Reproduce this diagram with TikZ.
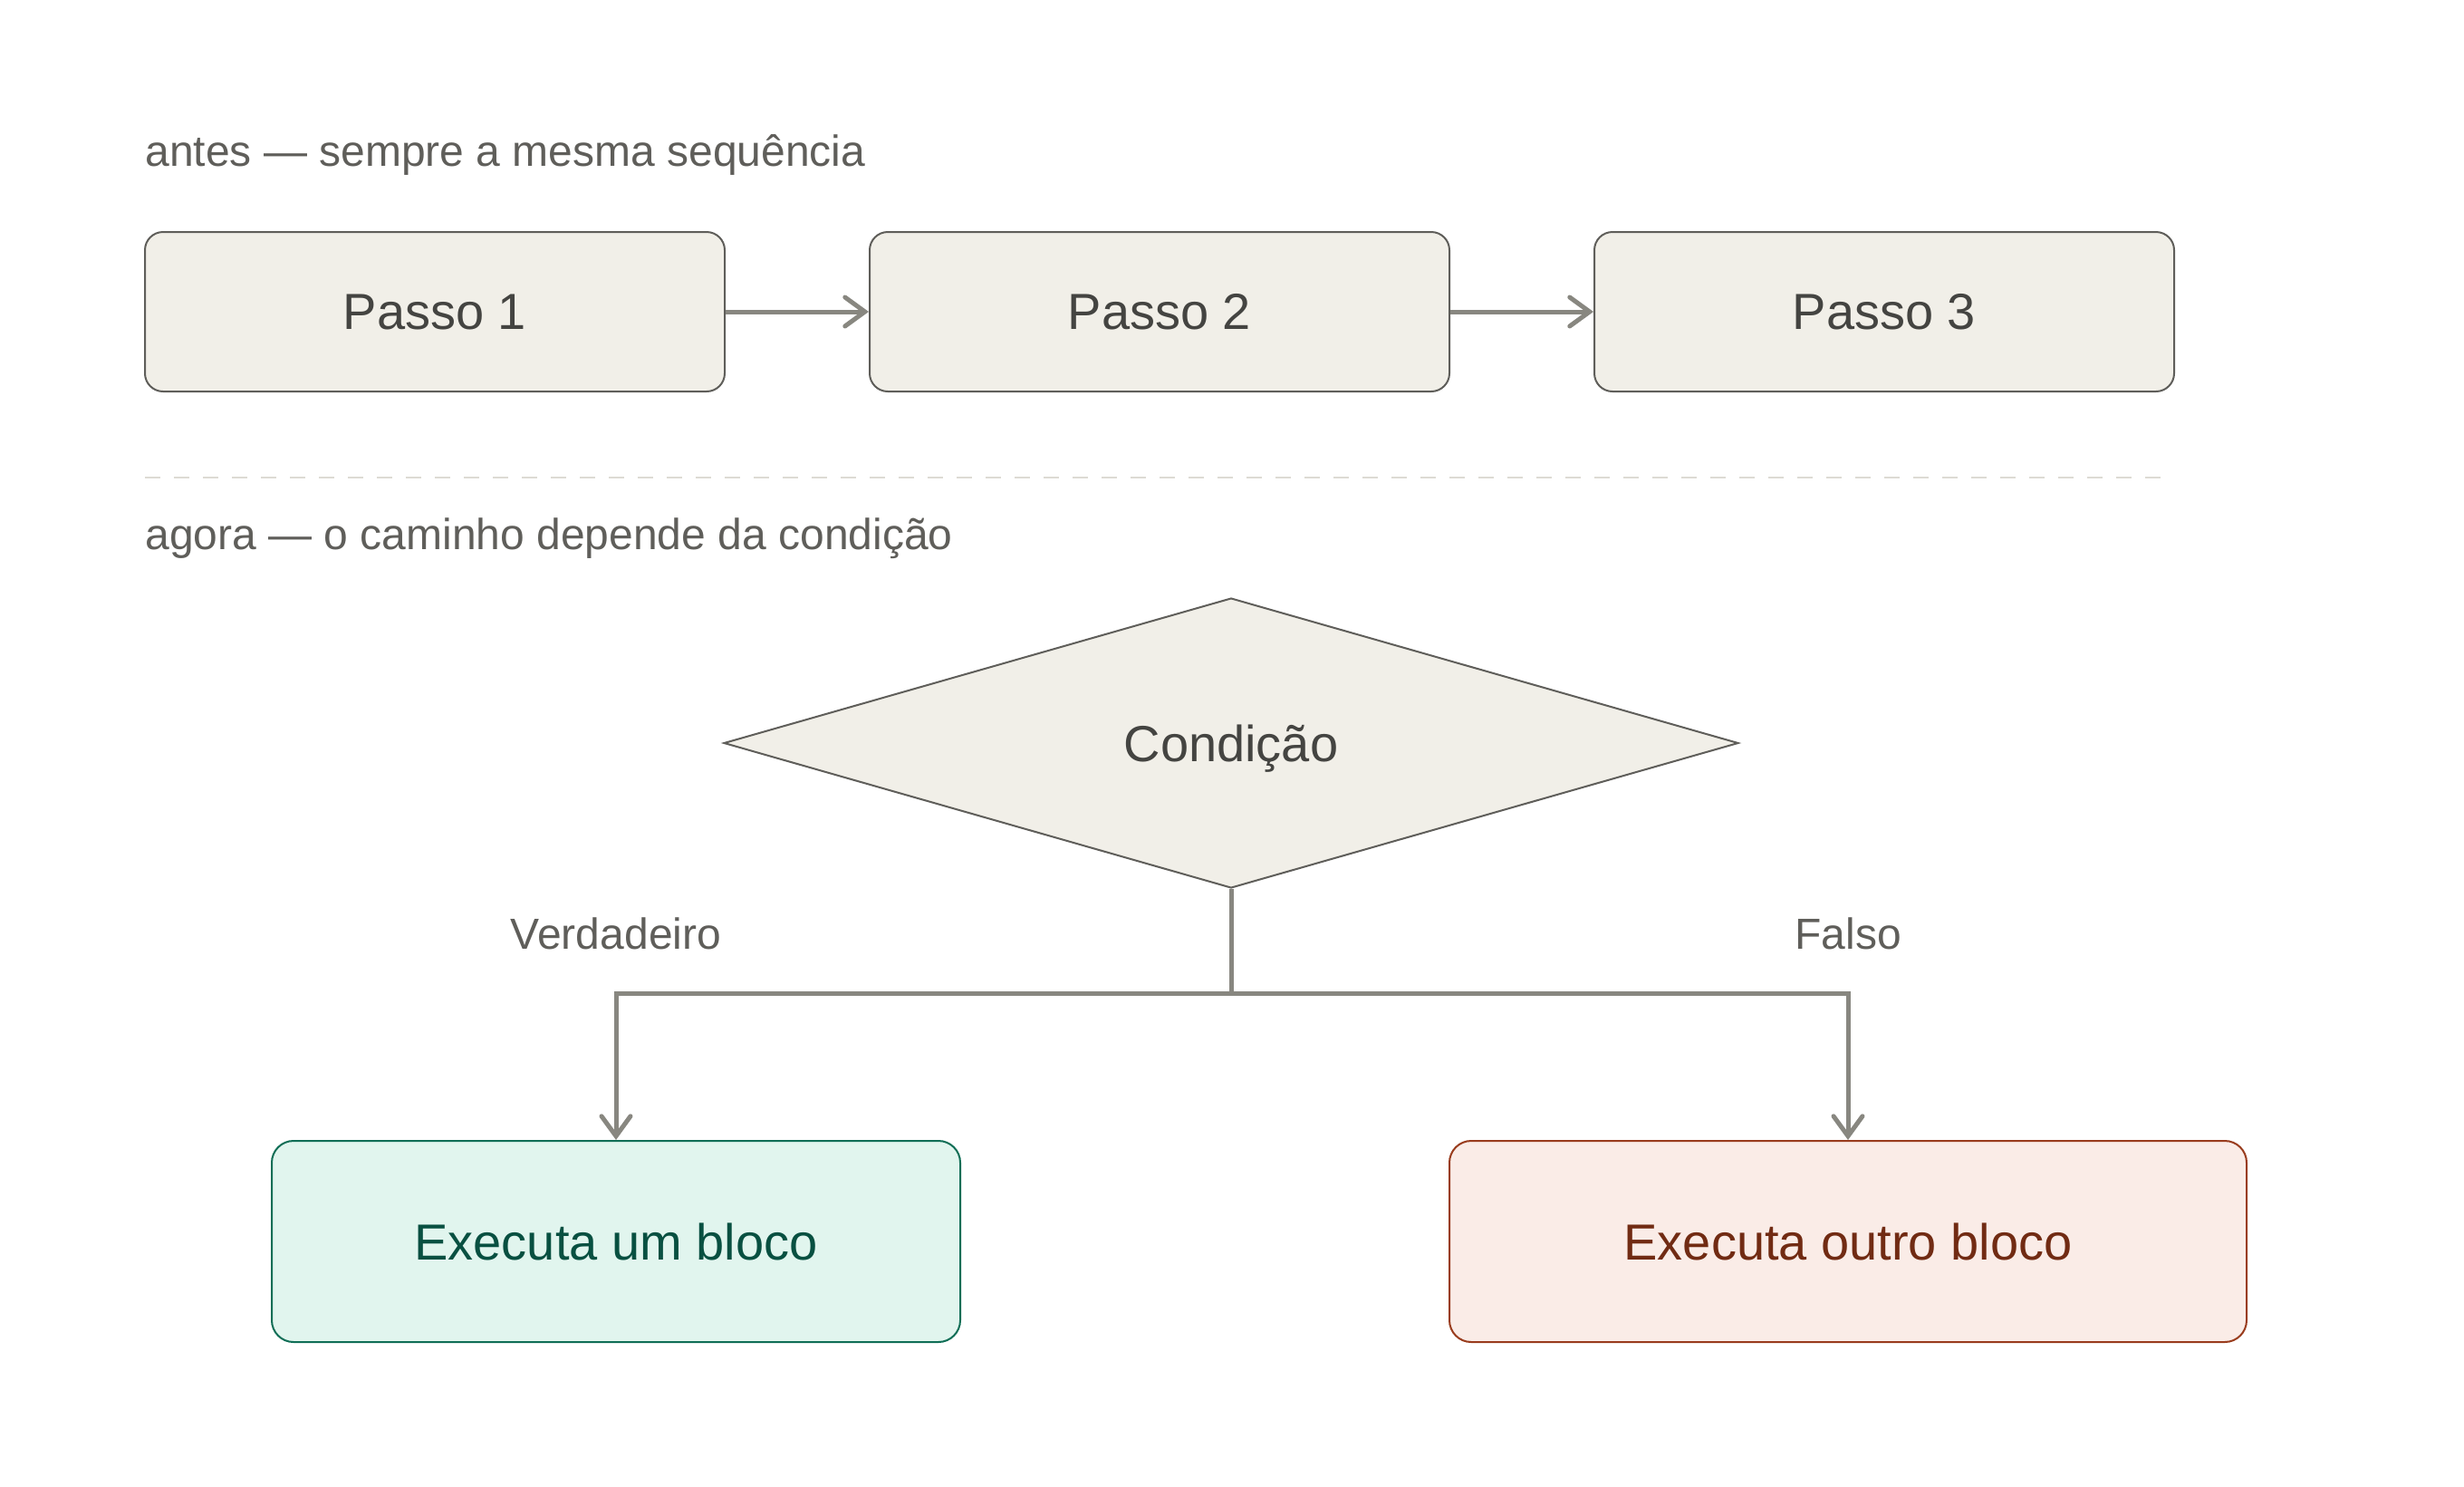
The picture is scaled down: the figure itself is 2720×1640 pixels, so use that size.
\documentclass[tikz,border=0pt]{standalone}
\usepackage{fontspec}
\setmainfont{Liberation Sans}
\usetikzlibrary{shapes.geometric,arrows.meta}
\definecolor{boxfill}{HTML}{F1EFE8}
\definecolor{boxline}{HTML}{5F5E5A}
\definecolor{boxtext}{HTML}{444441}
\definecolor{arrowc}{HTML}{888780}
\definecolor{grfill}{HTML}{E1F5EE}
\definecolor{grline}{HTML}{0F6E56}
\definecolor{grtext}{HTML}{085041}
\definecolor{rdfill}{HTML}{FAECE7}
\definecolor{rdline}{HTML}{993C1D}
\definecolor{rdtext}{HTML}{712B13}
\definecolor{sepc}{HTML}{DDDBD4}
\tikzset{
  stepbox/.style={draw=boxline, fill=boxfill, line width=1pt, rounded corners=10pt,
    minimum width=320pt, minimum height=88pt, inner sep=0pt, text=boxtext,
    font=\fontsize{28}{32}\selectfont, text depth=0pt},
  condbox/.style={diamond, draw=boxline, fill=boxfill, line width=1pt,
    minimum width=560pt, minimum height=160pt, inner sep=0pt, aspect=3.5, text=boxtext,
    font=\fontsize{28}{32}\selectfont, text depth=0pt},
  yesbox/.style={draw=grline, fill=grfill, line width=1pt, rounded corners=12pt,
    minimum width=380pt, minimum height=111pt, inner sep=0pt, text=grtext,
    font=\fontsize{28}{32}\selectfont, text depth=0pt},
  nobox/.style={draw=rdline, fill=rdfill, line width=1pt, rounded corners=12pt,
    minimum width=440pt, minimum height=111pt, inner sep=0pt, text=rdtext,
    font=\fontsize{28}{32}\selectfont, text depth=0pt},
  heading/.style={anchor=base west, inner sep=0pt, text=boxline, font=\fontsize{24}{28}\selectfont},
  branchlabel/.style={inner sep=0pt, text=boxline, font=\fontsize{24}{28}\selectfont, text depth=0pt},
  arr/.style={draw=arrowc, line width=2.5pt, -{Straight Barb[length=11pt,width=16pt,line cap=round]}},
  conn/.style={draw=arrowc, line width=2.5pt}
}
\begin{document}
\begin{tikzpicture}[x=0.5pt,y=-0.5pt]
\useasboundingbox (0,0) rectangle (2720,1640);
\node[heading] (t1) at (160,183) {antes — sempre a mesma sequência};
\node[stepbox] (p1) at (480,344) {Passo 1};
\node[stepbox] (p2) at (1280,344) {Passo 2};
\node[stepbox] (p3) at (2080,344) {Passo 3};
\draw[arr] (p1.east) -- (p2.west);
\draw[arr] (p2.east) -- (p3.west);
\coordinate (s1) at (160,527);
\coordinate (s2) at (2400,527);
\draw[sepc, line width=1.2pt, dash pattern=on 8.5pt off 7.5pt] (s1) -- (s2);
\node[heading] (t2) at (160,606) {agora — o caminho depende da condição};
\node[condbox] (c) at (1359,820) {Condição};
\node[yesbox] (y) at (680,1370) {Executa um bloco};
\node[nobox] (n) at (2040,1370) {Executa outro bloco};
\coordinate (j) at (1359,1096);
\draw[conn] (c.south) -- (j);
\draw[arr] (j) -| (y.north);
\draw[arr] (j) -| (n.north);
\node[branchlabel] (lv) at (680,1030) {Verdadeiro};
\node[branchlabel] (lf) at (2040,1030) {Falso};
\end{tikzpicture}
\end{document}
